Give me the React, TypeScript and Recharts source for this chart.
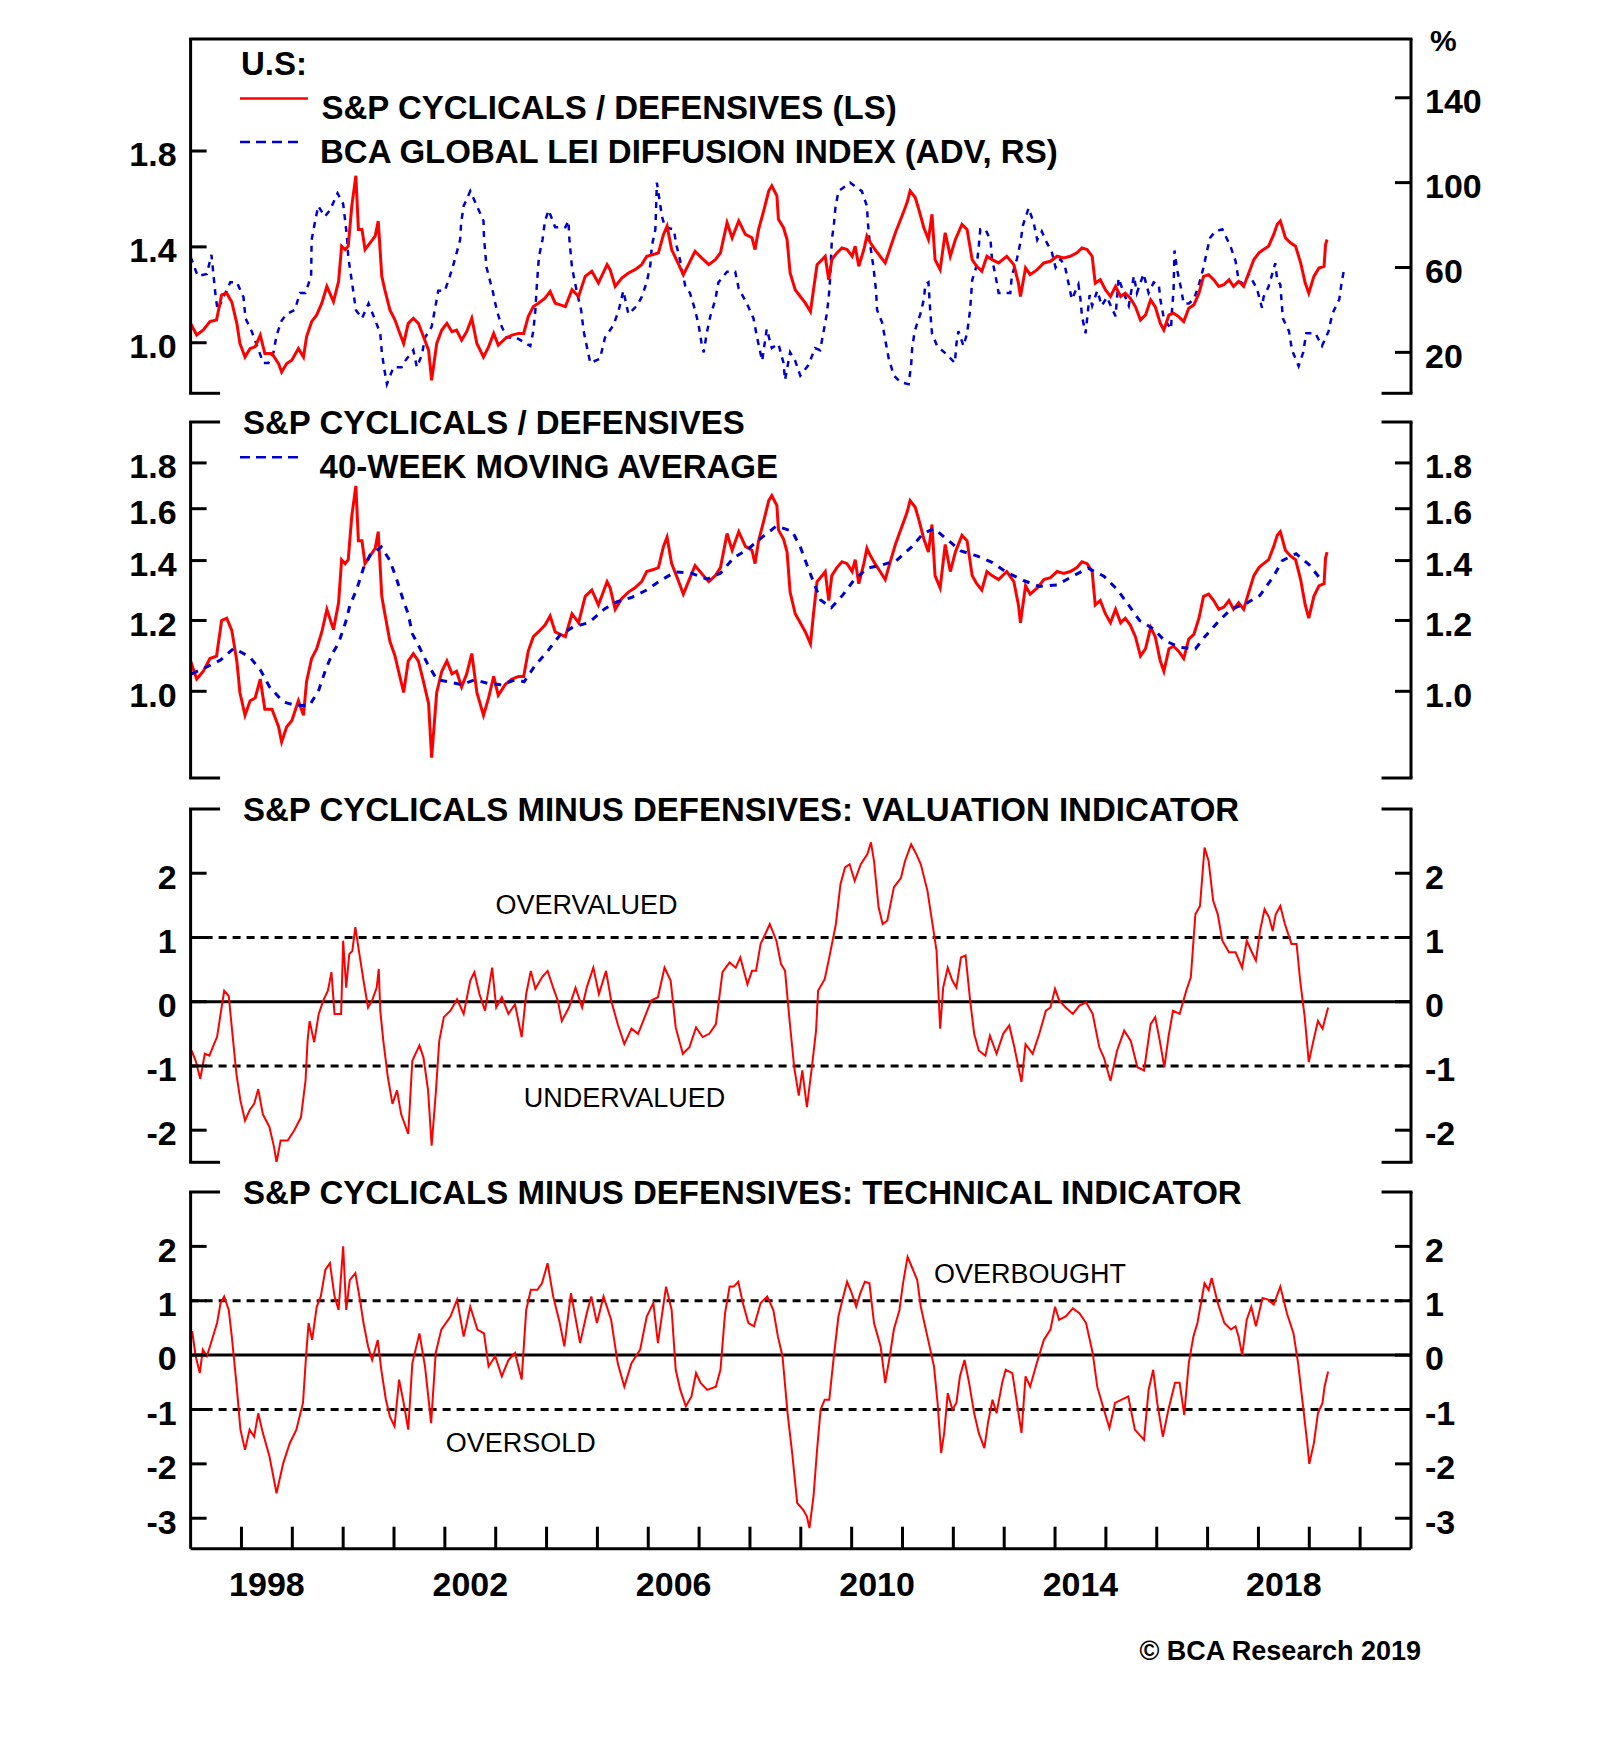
import React from 'react';
import { LineChart, Line, XAxis, YAxis, ReferenceLine } from 'recharts';

document.body.style.margin = '0';

const FONT = '"Liberation Sans", Arial, Helvetica, sans-serif';
const RED = '#ff0000';
const BLUE = '#0000cc';

const X_MIN = 1997;
const X_MAX = 2021;
const YEAR_TICKS = [1998, 1999, 2000, 2001, 2002, 2003, 2004, 2005, 2006, 2007, 2008, 2009, 2010, 2011, 2012, 2013, 2014, 2015, 2016, 2017, 2018, 2019, 2020];
const YEAR_LABELS = [1998, 2002, 2006, 2010, 2014, 2018];

// S&P cyclicals / defensives relative price (year, ratio)
const RATIO: [number, number][] = [
  [1997.0, 1.081], [1997.12, 1.032], [1997.25, 1.053], [1997.38, 1.088], [1997.51, 1.095], [1997.61, 1.2], [1997.71, 1.207],
  [1997.81, 1.17], [1997.91, 1.08], [1997.97, 0.997], [1998.07, 0.94], [1998.17, 0.976], [1998.27, 0.983], [1998.37, 1.032],
  [1998.46, 0.955], [1998.6, 0.955], [1998.73, 0.913], [1998.79, 0.878], [1998.89, 0.913], [1998.99, 0.927], [1999.12, 0.976],
  [1999.22, 0.94], [1999.28, 1.025], [1999.38, 1.088], [1999.48, 1.116], [1999.58, 1.165], [1999.68, 1.235], [1999.81, 1.172],
  [1999.91, 1.256], [1999.97, 1.403], [2000.04, 1.389], [2000.1, 1.403], [2000.17, 1.571], [2000.25, 1.697], [2000.3, 1.473],
  [2000.37, 1.473], [2000.43, 1.389], [2000.53, 1.417], [2000.63, 1.445], [2000.69, 1.508], [2000.76, 1.277], [2000.82, 1.221],
  [2000.92, 1.137], [2001.02, 1.095], [2001.09, 1.053], [2001.19, 0.997], [2001.28, 1.081], [2001.38, 1.102], [2001.48, 1.081],
  [2001.58, 1.025], [2001.68, 0.969], [2001.74, 0.843], [2001.84, 0.997], [2001.94, 1.053], [2002.04, 1.081], [2002.14, 1.046],
  [2002.23, 1.053], [2002.33, 1.011], [2002.43, 1.046], [2002.53, 1.102], [2002.63, 0.997], [2002.76, 0.94], [2002.86, 0.983],
  [2002.96, 1.039], [2003.05, 0.99], [2003.19, 1.018], [2003.32, 1.032], [2003.45, 1.039], [2003.55, 1.039], [2003.64, 1.109],
  [2003.74, 1.151], [2003.84, 1.165], [2003.97, 1.186], [2004.07, 1.214], [2004.17, 1.165], [2004.27, 1.158], [2004.37, 1.151],
  [2004.5, 1.221], [2004.63, 1.193], [2004.76, 1.277], [2004.89, 1.298], [2005.02, 1.249], [2005.19, 1.326], [2005.25, 1.305],
  [2005.35, 1.235], [2005.48, 1.27], [2005.61, 1.291], [2005.74, 1.305], [2005.87, 1.326], [2005.97, 1.361], [2006.1, 1.368],
  [2006.2, 1.375], [2006.3, 1.452], [2006.37, 1.487], [2006.46, 1.389], [2006.6, 1.326], [2006.69, 1.284], [2006.79, 1.326],
  [2006.92, 1.382], [2007.05, 1.354], [2007.19, 1.326], [2007.32, 1.347], [2007.42, 1.375], [2007.55, 1.501], [2007.65, 1.438],
  [2007.78, 1.508], [2007.91, 1.452], [2008.04, 1.438], [2008.1, 1.389], [2008.17, 1.473], [2008.27, 1.55], [2008.37, 1.634],
  [2008.43, 1.655], [2008.53, 1.613], [2008.56, 1.515], [2008.66, 1.48], [2008.73, 1.431], [2008.79, 1.291], [2008.89, 1.221],
  [2008.99, 1.193], [2009.09, 1.165], [2009.19, 1.13], [2009.25, 1.221], [2009.32, 1.326], [2009.42, 1.347], [2009.48, 1.361],
  [2009.55, 1.263], [2009.61, 1.347], [2009.71, 1.375], [2009.81, 1.396], [2009.91, 1.389], [2010.01, 1.361], [2010.07, 1.403],
  [2010.14, 1.319], [2010.24, 1.389], [2010.3, 1.445], [2010.37, 1.417], [2010.46, 1.389], [2010.56, 1.361], [2010.66, 1.333],
  [2010.76, 1.396], [2010.86, 1.459], [2010.99, 1.529], [2011.09, 1.585], [2011.15, 1.634], [2011.25, 1.606], [2011.32, 1.557],
  [2011.42, 1.48], [2011.51, 1.431], [2011.58, 1.536], [2011.64, 1.347], [2011.74, 1.305], [2011.84, 1.459], [2011.94, 1.361],
  [2012.04, 1.431], [2012.17, 1.494], [2012.27, 1.473], [2012.37, 1.347], [2012.46, 1.319], [2012.56, 1.298], [2012.66, 1.361],
  [2012.76, 1.347], [2012.89, 1.333], [2013.05, 1.361], [2013.19, 1.326], [2013.28, 1.249], [2013.32, 1.193], [2013.42, 1.312],
  [2013.51, 1.284], [2013.65, 1.305], [2013.78, 1.333], [2013.91, 1.34], [2014.04, 1.361], [2014.17, 1.354], [2014.3, 1.361],
  [2014.43, 1.375], [2014.53, 1.396], [2014.63, 1.389], [2014.73, 1.361], [2014.79, 1.249], [2014.89, 1.263], [2014.99, 1.221],
  [2015.09, 1.193], [2015.19, 1.235], [2015.29, 1.193], [2015.38, 1.207], [2015.48, 1.186], [2015.58, 1.151], [2015.68, 1.095],
  [2015.78, 1.116], [2015.88, 1.179], [2015.97, 1.151], [2016.07, 1.081], [2016.14, 1.053], [2016.24, 1.116], [2016.33, 1.123],
  [2016.43, 1.109], [2016.53, 1.088], [2016.63, 1.144], [2016.73, 1.158], [2016.83, 1.207], [2016.92, 1.277], [2017.02, 1.284],
  [2017.12, 1.263], [2017.22, 1.235], [2017.32, 1.242], [2017.42, 1.263], [2017.51, 1.235], [2017.61, 1.256], [2017.71, 1.235],
  [2017.81, 1.291], [2017.91, 1.347], [2018.01, 1.375], [2018.1, 1.389], [2018.2, 1.403], [2018.3, 1.452], [2018.37, 1.494],
  [2018.43, 1.508], [2018.53, 1.438], [2018.63, 1.417], [2018.73, 1.403], [2018.83, 1.333], [2018.92, 1.249], [2018.99, 1.207],
  [2019.09, 1.277], [2019.19, 1.312], [2019.29, 1.319], [2019.32, 1.41], [2019.35, 1.431],
];

// BCA global LEI diffusion index, advanced (year, %)
const LEI: [number, number][] = [
  [1997.0, 65], [1997.14, 56], [1997.32, 57], [1997.41, 66], [1997.49, 47], [1997.53, 40], [1997.78, 53], [1997.91, 53],
  [1998.04, 46], [1998.08, 36], [1998.2, 30], [1998.43, 15], [1998.53, 15], [1998.63, 20], [1998.69, 28], [1998.79, 35],
  [1998.89, 38], [1999.05, 40], [1999.15, 48], [1999.26, 48], [1999.37, 56], [1999.38, 73], [1999.45, 82], [1999.51, 89],
  [1999.64, 84], [1999.74, 87], [1999.89, 95], [2000.0, 90], [2000.05, 80], [2000.08, 73], [2000.1, 65], [2000.18, 52],
  [2000.25, 40], [2000.37, 36], [2000.5, 43], [2000.6, 37], [2000.73, 29], [2000.76, 20], [2000.81, 12], [2000.86, 5],
  [2000.99, 13], [2001.15, 13], [2001.22, 16], [2001.38, 21], [2001.45, 13], [2001.55, 19], [2001.61, 27], [2001.74, 32],
  [2001.81, 41], [2001.87, 49], [2002.0, 49], [2002.1, 56], [2002.2, 64], [2002.3, 73], [2002.32, 81], [2002.37, 89],
  [2002.5, 96], [2002.63, 89], [2002.76, 82], [2002.77, 74], [2002.82, 60], [2002.94, 49], [2003.02, 40], [2003.12, 32],
  [2003.22, 27], [2003.4, 27], [2003.68, 23], [2003.74, 30], [2003.78, 40], [2003.81, 52], [2003.85, 65], [2003.92, 73],
  [2003.97, 82], [2004.04, 87], [2004.17, 79], [2004.37, 79], [2004.43, 82], [2004.45, 73], [2004.5, 60], [2004.6, 48],
  [2004.68, 40], [2004.73, 30], [2004.79, 23], [2004.86, 15], [2005.05, 17], [2005.15, 27], [2005.32, 33], [2005.42, 40],
  [2005.51, 49], [2005.61, 38], [2005.78, 42], [2005.87, 46], [2005.97, 53], [2006.04, 61], [2006.07, 70], [2006.14, 78],
  [2006.17, 100], [2006.22, 92], [2006.27, 84], [2006.33, 79], [2006.5, 78], [2006.56, 70], [2006.63, 63], [2006.73, 51],
  [2006.82, 48], [2006.92, 40], [2006.99, 33], [2007.05, 24], [2007.09, 20], [2007.15, 29], [2007.22, 37], [2007.32, 45],
  [2007.38, 53], [2007.55, 58], [2007.71, 58], [2007.78, 50], [2007.94, 43], [2008.07, 36], [2008.14, 27], [2008.24, 16],
  [2008.33, 31], [2008.43, 22], [2008.56, 24], [2008.66, 15], [2008.69, 7], [2008.79, 20], [2008.89, 16], [2008.99, 9],
  [2009.15, 14], [2009.28, 22], [2009.38, 21], [2009.45, 30], [2009.51, 38], [2009.55, 46], [2009.58, 56], [2009.61, 73],
  [2009.65, 80], [2009.68, 88], [2009.74, 96], [2009.97, 100], [2010.2, 96], [2010.3, 89], [2010.32, 81], [2010.35, 73],
  [2010.43, 60], [2010.48, 49], [2010.5, 40], [2010.6, 34], [2010.66, 26], [2010.73, 17], [2010.83, 9], [2010.96, 6],
  [2011.12, 5], [2011.17, 14], [2011.19, 22], [2011.24, 30], [2011.35, 38], [2011.42, 45], [2011.45, 52], [2011.51, 53],
  [2011.55, 38], [2011.58, 29], [2011.68, 23], [2011.87, 19], [2012.03, 15], [2012.06, 24], [2012.1, 30], [2012.2, 23],
  [2012.27, 29], [2012.33, 40], [2012.37, 54], [2012.46, 61], [2012.5, 70], [2012.53, 78], [2012.63, 78], [2012.73, 73],
  [2012.76, 64], [2012.83, 56], [2012.89, 48], [2013.12, 48], [2013.15, 56], [2013.25, 64], [2013.32, 72], [2013.37, 80],
  [2013.48, 88], [2013.58, 81], [2013.65, 73], [2013.74, 77], [2013.81, 73], [2013.94, 67], [2014.01, 60], [2014.11, 64],
  [2014.2, 60], [2014.27, 52], [2014.33, 45], [2014.46, 52], [2014.5, 45], [2014.53, 37], [2014.6, 29], [2014.68, 47],
  [2014.73, 42], [2014.83, 49], [2014.92, 42], [2015.02, 46], [2015.19, 37], [2015.25, 55], [2015.35, 48], [2015.45, 42],
  [2015.55, 56], [2015.61, 48], [2015.74, 57], [2015.84, 48], [2015.94, 53], [2016.04, 52], [2016.07, 45], [2016.14, 36],
  [2016.28, 31], [2016.3, 40], [2016.33, 49], [2016.35, 68], [2016.4, 59], [2016.47, 51], [2016.53, 43], [2016.63, 43],
  [2016.73, 45], [2016.83, 52], [2016.92, 60], [2016.99, 68], [2017.05, 74], [2017.15, 77], [2017.29, 78], [2017.45, 70],
  [2017.55, 63], [2017.61, 54], [2017.71, 52], [2017.81, 57], [2017.97, 50], [2018.07, 41], [2018.1, 46], [2018.2, 51],
  [2018.33, 62], [2018.37, 54], [2018.43, 52], [2018.48, 36], [2018.6, 30], [2018.66, 21], [2018.79, 13.5], [2018.88, 20],
  [2018.94, 29], [2019.12, 29], [2019.25, 23], [2019.38, 30], [2019.45, 38], [2019.59, 45], [2019.63, 52], [2019.69, 60],
];

// 40-week moving average of the ratio (year, ratio)
const RATIO_MA40: [number, number][] = [
  [1997.02, 1.046], [1997.32, 1.065], [1997.59, 1.084], [1997.85, 1.117], [1998.16, 1.093], [1998.38, 1.055], [1998.55, 1.012],
  [1998.82, 0.973], [1999.08, 0.964], [1999.34, 0.964], [1999.52, 1.003], [1999.65, 1.055], [1999.78, 1.1], [1999.91, 1.132],
  [2000.05, 1.195], [2000.13, 1.246], [2000.27, 1.302], [2000.4, 1.373], [2000.53, 1.42], [2000.75, 1.45], [2000.92, 1.4],
  [2001.06, 1.33], [2001.19, 1.26], [2001.28, 1.22], [2001.36, 1.16], [2001.5, 1.12], [2001.67, 1.07], [2001.85, 1.03],
  [2002.07, 1.025], [2002.33, 1.017], [2002.59, 1.03], [2002.86, 1.02], [2003.12, 1.017], [2003.38, 1.03], [2003.56, 1.025],
  [2003.78, 1.07], [2004.0, 1.105], [2004.26, 1.155], [2004.52, 1.18], [2004.83, 1.193], [2005.14, 1.236], [2005.4, 1.26],
  [2005.67, 1.273], [2005.97, 1.298], [2006.24, 1.33], [2006.54, 1.36], [2006.85, 1.355], [2007.16, 1.335], [2007.42, 1.355],
  [2007.68, 1.41], [2007.95, 1.44], [2008.26, 1.49], [2008.52, 1.53], [2008.83, 1.51], [2008.99, 1.45], [2009.12, 1.385],
  [2009.25, 1.325], [2009.39, 1.265], [2009.6, 1.24], [2009.82, 1.28], [2010.04, 1.33], [2010.31, 1.373], [2010.61, 1.385],
  [2010.88, 1.4], [2011.18, 1.45], [2011.4, 1.5], [2011.62, 1.52], [2011.93, 1.47], [2012.15, 1.435], [2012.46, 1.417],
  [2012.77, 1.393], [2013.03, 1.36], [2013.38, 1.33], [2013.69, 1.31], [2014.04, 1.315], [2014.35, 1.345], [2014.65, 1.373],
  [2014.96, 1.345], [2015.22, 1.3], [2015.44, 1.25], [2015.66, 1.2], [2015.93, 1.175], [2016.15, 1.14], [2016.45, 1.12],
  [2016.76, 1.115], [2016.94, 1.15], [2017.2, 1.195], [2017.46, 1.235], [2017.77, 1.255], [2018.03, 1.28], [2018.3, 1.345],
  [2018.47, 1.4], [2018.74, 1.425], [2019.0, 1.385], [2019.22, 1.335], [2019.26, 1.33],
];

// valuation indicator (year, std. units)
const VALUATION: [number, number][] = [
  [1997.02, -0.76], [1997.1, -0.92], [1997.19, -1.2], [1997.28, -0.81], [1997.37, -0.84], [1997.46, -0.66], [1997.52, -0.55],
  [1997.59, -0.19], [1997.66, 0.17], [1997.75, 0.09], [1997.81, -0.4], [1997.9, -1.12], [1997.98, -1.54], [1998.07, -1.85],
  [1998.16, -1.69], [1998.25, -1.59], [1998.33, -1.36], [1998.42, -1.75], [1998.55, -1.95], [1998.64, -2.26], [1998.69, -2.5],
  [1998.77, -2.16], [1998.91, -2.16], [1999.04, -2.0], [1999.17, -1.8], [1999.26, -1.23], [1999.3, -0.61], [1999.34, -0.3],
  [1999.43, -0.63], [1999.52, -0.19], [1999.61, 0.02], [1999.7, 0.17], [1999.77, 0.46], [1999.83, -0.19], [1999.96, -0.19],
  [2000.0, 0.95], [2000.06, 0.22], [2000.12, 0.74], [2000.18, 0.79], [2000.24, 1.16], [2000.31, 0.79], [2000.4, 0.33],
  [2000.49, -0.09], [2000.57, 0.02], [2000.66, 0.22], [2000.7, 0.51], [2000.73, -0.14], [2000.79, -0.61], [2000.88, -1.18],
  [2000.97, -1.59], [2001.06, -1.38], [2001.14, -1.75], [2001.28, -2.06], [2001.36, -0.92], [2001.5, -0.68], [2001.58, -0.87],
  [2001.67, -1.38], [2001.74, -2.24], [2001.82, -1.44], [2001.89, -0.61], [2001.98, -0.24], [2002.11, -0.14], [2002.24, 0.04],
  [2002.37, -0.19], [2002.5, 0.33], [2002.58, 0.46], [2002.68, 0.12], [2002.79, -0.14], [2002.93, 0.53], [2003.01, -0.09],
  [2003.12, 0.07], [2003.25, -0.19], [2003.38, -0.04], [2003.51, -0.55], [2003.6, 0.12], [2003.69, 0.48], [2003.78, 0.2],
  [2003.91, 0.38], [2004.02, 0.48], [2004.13, 0.22], [2004.22, 0.02], [2004.3, -0.3], [2004.44, -0.09], [2004.57, 0.22],
  [2004.7, -0.09], [2004.79, 0.22], [2004.92, 0.53], [2005.03, 0.12], [2005.17, 0.48], [2005.27, 0.02], [2005.4, -0.35],
  [2005.53, -0.66], [2005.67, -0.42], [2005.8, -0.5], [2005.93, -0.24], [2006.06, 0.02], [2006.19, 0.07], [2006.32, 0.53],
  [2006.44, 0.33], [2006.54, -0.4], [2006.68, -0.81], [2006.81, -0.71], [2006.94, -0.4], [2007.07, -0.55], [2007.2, -0.5],
  [2007.33, -0.35], [2007.46, 0.46], [2007.6, 0.61], [2007.72, 0.53], [2007.81, 0.69], [2007.95, 0.27], [2008.04, 0.48],
  [2008.12, 0.48], [2008.21, 0.9], [2008.3, 1.05], [2008.39, 1.21], [2008.52, 0.95], [2008.61, 0.59], [2008.69, 0.48],
  [2008.78, -0.3], [2008.87, -1.02], [2008.96, -1.46], [2009.03, -1.07], [2009.12, -1.64], [2009.21, -1.07], [2009.3, -0.45],
  [2009.34, 0.17], [2009.47, 0.35], [2009.56, 0.69], [2009.69, 1.21], [2009.78, 1.83], [2009.87, 2.09], [2009.96, 2.14],
  [2010.06, 1.88], [2010.18, 2.14], [2010.31, 2.3], [2010.38, 2.48], [2010.44, 2.19], [2010.53, 1.47], [2010.61, 1.21],
  [2010.7, 1.26], [2010.83, 1.78], [2010.97, 1.93], [2011.05, 2.19], [2011.17, 2.45], [2011.27, 2.3], [2011.36, 2.14],
  [2011.49, 1.73], [2011.58, 1.26], [2011.67, 0.79], [2011.74, -0.42], [2011.8, 0.22], [2011.89, 0.53], [2011.98, 0.33],
  [2012.06, 0.22], [2012.15, 0.69], [2012.24, 0.72], [2012.33, 0.02], [2012.41, -0.5], [2012.5, -0.76], [2012.63, -0.84],
  [2012.72, -0.53], [2012.85, -0.81], [2012.98, -0.5], [2013.1, -0.37], [2013.2, -0.71], [2013.34, -1.25], [2013.42, -0.66],
  [2013.56, -0.81], [2013.69, -0.5], [2013.82, -0.14], [2013.91, -0.09], [2014.0, 0.2], [2014.08, 0.02], [2014.21, -0.09],
  [2014.35, -0.19], [2014.48, -0.06], [2014.61, -0.01], [2014.74, -0.19], [2014.87, -0.71], [2014.96, -0.87], [2015.09, -1.23],
  [2015.22, -0.76], [2015.36, -0.45], [2015.49, -0.61], [2015.62, -1.02], [2015.75, -1.07], [2015.88, -0.35], [2015.97, -0.24],
  [2016.06, -0.61], [2016.15, -1.02], [2016.23, -0.55], [2016.32, -0.14], [2016.45, -0.19], [2016.58, 0.17], [2016.67, 0.38],
  [2016.76, 1.36], [2016.85, 1.49], [2016.94, 2.4], [2017.02, 2.19], [2017.11, 1.57], [2017.2, 1.36], [2017.29, 0.95],
  [2017.42, 0.77], [2017.55, 0.77], [2017.68, 0.53], [2017.77, 0.95], [2017.86, 0.79], [2017.95, 0.64], [2018.03, 1.1],
  [2018.12, 1.44], [2018.21, 1.31], [2018.28, 1.1], [2018.34, 1.36], [2018.43, 1.49], [2018.52, 1.21], [2018.65, 0.9],
  [2018.75, 0.9], [2018.82, 0.33], [2018.91, -0.24], [2018.99, -0.94], [2019.08, -0.61], [2019.17, -0.3], [2019.26, -0.42],
  [2019.37, -0.09],
];

// technical indicator (year, std. units)
const TECHNICAL: [number, number][] = [
  [1997.03, 0.44], [1997.1, -0.02], [1997.18, -0.33], [1997.24, 0.1], [1997.32, -0.02], [1997.41, 0.25], [1997.52, 0.59],
  [1997.59, 0.96], [1997.66, 1.08], [1997.75, 0.83], [1997.81, 0.34], [1997.9, -0.51], [1997.98, -1.37], [1998.07, -1.74],
  [1998.16, -1.37], [1998.25, -1.5], [1998.33, -1.07], [1998.42, -1.43], [1998.55, -1.86], [1998.69, -2.54], [1998.82, -1.99],
  [1998.95, -1.62], [1999.08, -1.37], [1999.21, -0.88], [1999.27, -0.02], [1999.32, 0.59], [1999.39, 0.28], [1999.48, 0.89],
  [1999.56, 1.08], [1999.65, 1.57], [1999.74, 1.69], [1999.83, 1.08], [1999.91, 0.83], [2000.0, 2.0], [2000.06, 0.83],
  [2000.13, 1.38], [2000.24, 1.51], [2000.33, 1.02], [2000.4, 0.59], [2000.49, 0.16], [2000.57, -0.09], [2000.68, 0.28],
  [2000.75, -0.27], [2000.84, -0.82], [2000.92, -1.13], [2001.01, -1.31], [2001.1, -0.45], [2001.19, -0.88], [2001.28, -1.37],
  [2001.36, -0.15], [2001.5, 0.4], [2001.61, -0.21], [2001.73, -1.25], [2001.82, 0.04], [2001.93, 0.47], [2002.11, 0.71],
  [2002.24, 1.02], [2002.37, 0.34], [2002.5, 0.89], [2002.64, 0.47], [2002.77, 0.4], [2002.86, -0.21], [2002.99, -0.02],
  [2003.12, -0.39], [2003.25, -0.09], [2003.38, 0.04], [2003.51, -0.45], [2003.6, 0.83], [2003.69, 1.2], [2003.82, 1.2],
  [2003.91, 1.32], [2004.02, 1.69], [2004.13, 1.08], [2004.26, 0.59], [2004.35, 0.16], [2004.48, 1.14], [2004.66, 0.22],
  [2004.79, 0.77], [2004.88, 1.08], [2004.99, 0.59], [2005.12, 1.08], [2005.27, 0.65], [2005.4, -0.15], [2005.53, -0.58],
  [2005.67, -0.15], [2005.84, 0.1], [2005.97, 0.71], [2006.1, 0.96], [2006.19, 0.22], [2006.35, 1.26], [2006.46, 0.83],
  [2006.54, -0.27], [2006.63, -0.64], [2006.74, -0.94], [2006.85, -0.76], [2006.94, -0.33], [2007.03, -0.51], [2007.16, -0.64],
  [2007.33, -0.58], [2007.42, -0.27], [2007.51, 0.77], [2007.6, 1.26], [2007.68, 1.26], [2007.77, 1.35], [2007.86, 0.96],
  [2007.97, 0.59], [2008.08, 0.53], [2008.21, 0.96], [2008.34, 1.08], [2008.46, 0.83], [2008.55, 0.34], [2008.64, -0.02],
  [2008.74, -1.07], [2008.83, -1.8], [2008.93, -2.72], [2009.05, -2.85], [2009.12, -2.97], [2009.17, -3.18], [2009.25, -2.6],
  [2009.32, -1.74], [2009.39, -1.0], [2009.47, -0.82], [2009.56, -0.82], [2009.65, -0.02], [2009.74, 0.71], [2009.82, 1.02],
  [2009.91, 1.35], [2009.99, 1.17], [2010.09, 0.89], [2010.17, 1.14], [2010.26, 1.35], [2010.35, 1.32], [2010.44, 0.59],
  [2010.57, 0.16], [2010.66, -0.51], [2010.75, -0.02], [2010.83, 0.47], [2010.94, 0.83], [2011.01, 1.32], [2011.1, 1.81],
  [2011.18, 1.63], [2011.29, 1.38], [2011.36, 0.89], [2011.49, 0.34], [2011.62, -0.21], [2011.69, -0.88], [2011.76, -1.8],
  [2011.82, -1.43], [2011.89, -0.7], [2011.98, -1.0], [2012.06, -0.88], [2012.13, -0.39], [2012.22, -0.09], [2012.31, -0.51],
  [2012.41, -1.07], [2012.5, -1.43], [2012.61, -1.71], [2012.68, -1.25], [2012.77, -0.82], [2012.85, -1.07], [2012.96, -0.51],
  [2013.03, -0.27], [2013.16, -0.33], [2013.25, -0.88], [2013.34, -1.43], [2013.42, -0.39], [2013.51, -0.58], [2013.64, -0.15],
  [2013.78, 0.28], [2013.91, 0.47], [2014.0, 0.89], [2014.08, 0.65], [2014.21, 0.71], [2014.35, 0.86], [2014.48, 0.77],
  [2014.61, 0.59], [2014.74, 0.04], [2014.83, -0.58], [2014.96, -1.0], [2015.07, -1.34], [2015.18, -0.88], [2015.31, -0.82],
  [2015.44, -0.76], [2015.57, -1.37], [2015.75, -1.56], [2015.84, -0.64], [2015.93, -0.27], [2016.01, -0.88], [2016.12, -1.5],
  [2016.23, -1.0], [2016.36, -0.51], [2016.45, -0.51], [2016.54, -1.1], [2016.63, -0.15], [2016.72, 0.34], [2016.8, 0.59],
  [2016.94, 1.32], [2017.02, 1.2], [2017.08, 1.42], [2017.2, 0.96], [2017.33, 0.59], [2017.46, 0.47], [2017.55, 0.53],
  [2017.61, 0.34], [2017.68, 0.0], [2017.77, 0.65], [2017.86, 0.89], [2017.95, 0.53], [2018.08, 1.05], [2018.19, 1.02],
  [2018.3, 0.93], [2018.43, 1.26], [2018.56, 0.77], [2018.69, 0.4], [2018.78, -0.15], [2018.87, -0.88], [2018.96, -1.62],
  [2019.0, -2.0], [2019.09, -1.62], [2019.17, -1.07], [2019.26, -0.88], [2019.3, -0.58], [2019.37, -0.3],
];

// layout (px)
const W = 1600;
const H = 1758;
const PLOT_L = 190.6;
const PLOT_R = 1411;
const AXIS_W = 80;
const PAD = 20;
const STUB = 0.55; // frame corner stubs, in years
const TICK_LEN = 16;
const TICK_FONT = 34;
const TITLE_FONT = 33;

const toPts = (arr: [number, number][]) => arr.map(([t, v]) => ({ t, v }));

function makeYTick(side: 'left' | 'right', fmt: (v: number) => string) {
  return (props: any) => {
    const { x, y, payload } = props;
    const dir = side === 'left' ? 1 : -1;
    return (
      <g>
        <line x1={x} y1={y} x2={x + dir * TICK_LEN} y2={y} stroke="#000" strokeWidth={3} />
        <text
          x={x - dir * 14}
          y={y}
          dy="0.45em"
          textAnchor={side === 'left' ? 'end' : 'start'}
          fontFamily={FONT}
          fontWeight="bold"
          fontSize={TICK_FONT}
          fill="#000"
        >
          {fmt(payload.value)}
        </text>
      </g>
    );
  };
}

const halfYearPx = (PLOT_R - PLOT_L) / (X_MAX - X_MIN) / 2;

function YearTick(props: any) {
  const { x, y, payload } = props;
  const showLabel = YEAR_LABELS.includes(payload.value);
  return (
    <g>
      <line x1={x} y1={y} x2={x} y2={y - 22} stroke="#000" strokeWidth={3} />
      {showLabel && (
        <text x={x + halfYearPx} y={y + 35} dy="0.36em" textAnchor="middle" fontFamily={FONT} fontWeight="bold" fontSize={TICK_FONT} fill="#000">
          {payload.value}
        </text>
      )}
    </g>
  );
}

interface PanelProps {
  top: number;
  bottom: number;
  leftDomain: [number, number];
  rightDomain: [number, number];
  leftTicks: number[];
  rightTicks: number[];
  fmtL: (v: number) => string;
  fmtR: (v: number) => string;
  log?: boolean;
  fullTop?: boolean;
  withXAxis?: boolean;
  children?: React.ReactNode;
}

function Panel({ top, bottom, leftDomain, rightDomain, leftTicks, rightTicks, fmtL, fmtR, log, fullTop, withXAxis, children }: PanelProps) {
  const plotH = bottom - top;
  const xAxisH = withXAxis ? 70 : 0;
  const bottomPad = withXAxis ? 10 : PAD;
  const height = PAD + plotH + xAxisH + bottomPad;
  const [yLo, yHi] = leftDomain;
  const stub = (y: number, key: string) => [
    <ReferenceLine key={key + 'l'} yAxisId="left" ifOverflow="visible" stroke="#000" strokeWidth={3} strokeLinecap="square"
      segment={[{ x: X_MIN, y }, { x: X_MIN + STUB, y }]} />,
    <ReferenceLine key={key + 'r'} yAxisId="left" ifOverflow="visible" stroke="#000" strokeWidth={3} strokeLinecap="square"
      segment={[{ x: X_MAX - STUB, y }, { x: X_MAX, y }]} />,
  ];
  return (
    <div style={{ position: 'absolute', left: 0, top: top - PAD, width: W, height }}>
      <LineChart
        width={W}
        height={height}
        margin={{ top: PAD, bottom: bottomPad, left: PLOT_L - AXIS_W, right: W - PLOT_R - AXIS_W }}
      >
        <XAxis
          type="number"
          dataKey="t"
          domain={[X_MIN, X_MAX]}
          allowDataOverflow
          hide={!withXAxis}
          ticks={YEAR_TICKS}
          interval={0}
          height={xAxisH}
          tickSize={0}
          tickMargin={0}
          tickLine={false}
          axisLine={{ stroke: '#000', strokeWidth: 3 }}
          tick={YearTick}
        />
        <YAxis
          yAxisId="left"
          type="number"
          scale={log ? 'log' : 'linear'}
          domain={leftDomain}
          allowDataOverflow
          ticks={leftTicks}
          interval={0}
          width={AXIS_W}
          tickSize={0}
          tickMargin={0}
          tickLine={false}
          axisLine={{ stroke: '#000', strokeWidth: 3 }}
          tick={makeYTick('left', fmtL)}
        />
        <YAxis
          yAxisId="right"
          orientation="right"
          type="number"
          scale={log ? 'log' : 'linear'}
          domain={rightDomain}
          allowDataOverflow
          ticks={rightTicks}
          interval={0}
          width={AXIS_W}
          tickSize={0}
          tickMargin={0}
          tickLine={false}
          axisLine={{ stroke: '#000', strokeWidth: 3 }}
          tick={makeYTick('right', fmtR)}
        />
        {fullTop
          ? <ReferenceLine yAxisId="left" y={yHi} ifOverflow="visible" stroke="#000" strokeWidth={3} strokeLinecap="square" />
          : stub(yHi, 'top')}
        {!withXAxis && stub(yLo, 'bot')}
        {children}
      </LineChart>
    </div>
  );
}

function Text({ x, cy, size, bold = true, align = 'left', children }: { x: number; cy: number; size: number; bold?: boolean; align?: 'left' | 'center' | 'right'; children: React.ReactNode }) {
  const style: React.CSSProperties = {
    position: 'absolute',
    top: cy - size * 0.49,
    fontFamily: FONT,
    fontSize: size,
    fontWeight: bold ? 'bold' : 'normal',
    lineHeight: 1,
    whiteSpace: 'nowrap',
    color: '#000',
  };
  if (align === 'left') style.left = x;
  if (align === 'center') { style.left = x; style.transform = 'translateX(-50%)'; }
  if (align === 'right') style.right = W - x;
  return <div style={style}>{children}</div>;
}

function LegendLine({ x1, x2, y, color, dashed }: { x1: number; x2: number; y: number; color: string; dashed?: boolean }) {
  return (
    <svg style={{ position: 'absolute', left: 0, top: 0 }} width={W} height={H} pointerEvents="none">
      <line x1={x1} x2={x2} y1={y} y2={y} stroke={color} strokeWidth={2.5} strokeDasharray={dashed ? '10 6' : undefined} />
    </svg>
  );
}

const f1 = (v: number) => v.toFixed(1);
const f0 = (v: number) => String(v);

export default function App() {
  const ratio = toPts(RATIO);
  return (
    <div style={{ position: 'relative', width: W, height: H, background: '#fff', overflow: 'hidden' }}>
      {/* panel 1: ratio vs LEI diffusion */}
      <Panel
        top={39}
        bottom={393.3}
        leftDomain={[0.789, 2.2675]}
        rightDomain={[0.7, 167.7]}
        leftTicks={[1.0, 1.4, 1.8]}
        rightTicks={[20, 60, 100, 140]}
        fmtL={f1}
        fmtR={f0}
        fullTop
      >
        <Line yAxisId="right" data={toPts(LEI)} dataKey="v" stroke={BLUE} strokeWidth={2.5} strokeDasharray="6 6" dot={false} isAnimationActive={false} />
        <Line yAxisId="left" data={ratio} dataKey="v" stroke={RED} strokeWidth={3} dot={false} isAnimationActive={false} />
      </Panel>

      {/* panel 2: ratio with moving average, log scale */}
      <Panel
        top={422.3}
        bottom={778.3}
        leftDomain={[0.8, 2.0]}
        rightDomain={[0.8, 2.0]}
        leftTicks={[1.0, 1.2, 1.4, 1.6, 1.8]}
        rightTicks={[1.0, 1.2, 1.4, 1.6, 1.8]}
        fmtL={f1}
        fmtR={f1}
        log
      >
        <Line yAxisId="left" data={ratio} dataKey="v" stroke={RED} strokeWidth={3} dot={false} isAnimationActive={false} />
        <Line yAxisId="left" data={toPts(RATIO_MA40)} dataKey="v" stroke={BLUE} strokeWidth={3} strokeDasharray="7 7" dot={false} isAnimationActive={false} />
      </Panel>

      {/* panel 3: valuation indicator */}
      <Panel
        top={809}
        bottom={1162.3}
        leftDomain={[-2.5, 3.0]}
        rightDomain={[-2.5, 3.0]}
        leftTicks={[-2, -1, 0, 1, 2]}
        rightTicks={[-2, -1, 0, 1, 2]}
        fmtL={f0}
        fmtR={f0}
      >
        <ReferenceLine yAxisId="left" y={0} stroke="#000" strokeWidth={3} />
        <ReferenceLine yAxisId="left" y={1} stroke="#000" strokeWidth={3} strokeDasharray="8 6" />
        <ReferenceLine yAxisId="left" y={-1} stroke="#000" strokeWidth={3} strokeDasharray="8 6" />
        <Line yAxisId="left" data={toPts(VALUATION)} dataKey="v" stroke={RED} strokeWidth={2} dot={false} isAnimationActive={false} />
      </Panel>

      {/* panel 4: technical indicator */}
      <Panel
        top={1192.3}
        bottom={1549}
        leftDomain={[-3.56, 3.0]}
        rightDomain={[-3.56, 3.0]}
        leftTicks={[-3, -2, -1, 0, 1, 2]}
        rightTicks={[-3, -2, -1, 0, 1, 2]}
        fmtL={f0}
        fmtR={f0}
        withXAxis
      >
        <ReferenceLine yAxisId="left" y={0} stroke="#000" strokeWidth={3} />
        <ReferenceLine yAxisId="left" y={1} stroke="#000" strokeWidth={3} strokeDasharray="8 6" />
        <ReferenceLine yAxisId="left" y={-1} stroke="#000" strokeWidth={3} strokeDasharray="8 6" />
        <Line yAxisId="left" data={toPts(TECHNICAL)} dataKey="v" stroke={RED} strokeWidth={2} dot={false} isAnimationActive={false} />
      </Panel>

      {/* titles and legends */}
      <Text x={241} cy={63.5} size={TITLE_FONT}>U.S:</Text>
      <LegendLine x1={240} x2={308} y={98.5} color={RED} />
      <Text x={321.5} cy={107.5} size={TITLE_FONT}>S&amp;P CYCLICALS / DEFENSIVES (LS)</Text>
      <LegendLine x1={240} x2={304} y={142} color={BLUE} dashed />
      <Text x={320} cy={151.5} size={TITLE_FONT}>BCA GLOBAL LEI DIFFUSION INDEX (ADV, RS)</Text>
      <Text x={1430} cy={41} size={30}>%</Text>

      <Text x={243} cy={422.5} size={TITLE_FONT}>S&amp;P CYCLICALS / DEFENSIVES</Text>
      <LegendLine x1={240} x2={304} y={457.3} color={BLUE} dashed />
      <Text x={319.6} cy={465.7} size={TITLE_FONT}>40-WEEK MOVING AVERAGE</Text>

      <Text x={243} cy={809} size={TITLE_FONT}>S&amp;P CYCLICALS MINUS DEFENSIVES: VALUATION INDICATOR</Text>
      <Text x={586.6} cy={905} size={27} bold={false} align="center">OVERVALUED</Text>
      <Text x={624.5} cy={1098} size={27} bold={false} align="center">UNDERVALUED</Text>

      <Text x={243} cy={1192.5} size={TITLE_FONT}>S&amp;P CYCLICALS MINUS DEFENSIVES: TECHNICAL INDICATOR</Text>
      <Text x={1030} cy={1274} size={27} bold={false} align="center">OVERBOUGHT</Text>
      <Text x={520.8} cy={1443} size={27} bold={false} align="center">OVERSOLD</Text>

      <Text x={1421} cy={1651.5} size={27} align="right">© BCA Research 2019</Text>
    </div>
  );
}
